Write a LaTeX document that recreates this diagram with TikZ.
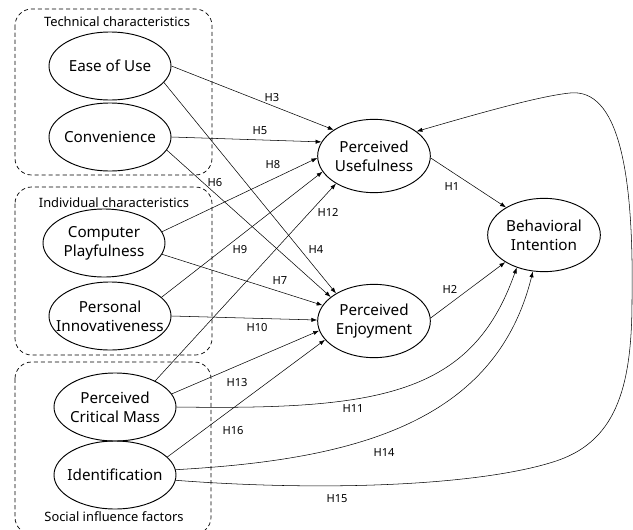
\documentclass[tikz,border=0pt]{standalone}
\usepackage{fontspec}
\setmainfont{Noto Sans}
\usetikzlibrary{arrows.meta, shapes.geometric}

\begin{document}
\begin{tikzpicture}[x=0.03cm, y=-0.03cm, >={Latex[length=5pt,width=3.6pt]},
    construct/.style={ellipse, draw, line width=0.8pt, inner sep=0pt,
        minimum width=3.66cm, minimum height=2.04cm},
    outcome/.style={construct, minimum width=3.38cm, minimum height=2.2cm},
    ctext/.style={font=\fontsize{13}{16}\selectfont, align=center},
    groupbox/.style={draw, line width=0.6pt, dash pattern=on 3.5pt off 2.5pt, rounded corners=0.5cm},
    grouptext/.style={font=\fontsize{11}{13}\selectfont},
    hyp/.style={font=\fontsize{9.5}{11}\selectfont, inner sep=1pt},
    link/.style={->, line width=0.45pt}]
    \useasboundingbox (0,0) rectangle (633,530);

    % groups
    \draw[groupbox] (15,9) rectangle (212,175);
    \draw[groupbox] (15,187) rectangle (212,355);
    \draw[groupbox] (15,362) rectangle (211,534);
    \node[grouptext] (gtech) at (117,22) {Technical characteristics};
    \node[grouptext] (gind) at (114,203) {Individual characteristics};
    \node[grouptext] (gsoc) at (114,517) {Social influence factors};

    % constructs
    \node[construct, label={[ctext]center:Ease of Use}] (eou) at (110,66) {};
    \node[construct, label={[ctext]center:Convenience}] (conv) at (110,137) {};
    \node[construct, label={[ctext]center:{Computer\\Playfulness}}] (cp) at (104,243) {};
    \node[construct, label={[ctext]center:{Personal\\Innovativeness}}] (pi) at (110,316) {};
    \node[construct, label={[ctext]center:{Perceived\\Critical Mass}}] (pcm) at (115,407) {};
    \node[construct, label={[ctext]center:Identification}] (iden) at (115,475) {};
    \node[outcome, label={[ctext]center:{Perceived\\Usefulness}}] (pu) at (374,156) {};
    \node[outcome, label={[ctext]center:{Perceived\\Enjoyment}}] (pe) at (374,321) {};
    \node[outcome, label={[ctext]center:{Behavioral\\Intention}}] (bi) at (544,235) {};

    % bends of the long H15 path
    \coordinate (lowR) at (553,462);
    \coordinate (farR) at (632,300);
    \coordinate (topR) at (570,93);

    % paths
    \draw[link] (eou.east) -- (pu.147);
    \draw[link] (eou.-17) -- (pe.144);
    \draw[link] (conv.east) -- (pu.165);
    \draw[link] (conv.-13) -- (pe.151);
    \draw[link] (cp.11) -- (pu.182);
    \draw[link] (cp.-11) -- (pe.163);
    \draw[link] (pi.20) -- (pu.197);
    \draw[link] (pi.east) -- (pe.179);
    \draw[link] (pcm.33) -- (pu.216);
    \draw[link] (pcm.13) -- (pe.190);
    \draw[link] (pcm.east) .. controls (380,410) and (472,395) .. (bi.230);
    \draw[link] (iden.19) -- (pe.201);
    \draw[link] (iden.5) .. controls (350,460) and (495,425) .. (bi.253);
    \draw[link] (iden.-5) .. controls (330,492) and (480,485) .. (lowR)
        .. controls (615,443) and (632,390) .. (farR)
        .. controls (634,170) and (618,88) .. (topR)
        .. controls (540,96) and (480,113) .. (pu.30);
    \draw[link] (pu.-2) -- (bi.144);
    \draw[link] (pe.3) -- (bi.215);

    % hypotheses
    \node[hyp] (h1) at (452,187) {H1};
    \node[hyp] (h2) at (450,289) {H2};
    \node[hyp] (h3) at (272,98) {H3};
    \node[hyp] (h4) at (316,250) {H4};
    \node[hyp] (h5) at (260,131) {H5};
    \node[hyp] (h6) at (215,183) {H6};
    \node[hyp] (h7) at (280,281) {H7};
    \node[hyp] (h8) at (273,165) {H8};
    \node[hyp] (h9) at (240,250) {H9};
    \node[hyp] (h10) at (257,328) {H10};
    \node[hyp] (h11) at (353,409) {H11};
    \node[hyp] (h12) at (328,212) {H12};
    \node[hyp] (h13) at (237,383) {H13};
    \node[hyp] (h14) at (384,453) {H14};
    \node[hyp] (h15) at (337,499) {H15};
    \node[hyp] (h16) at (233,431) {H16};
\end{tikzpicture}
\end{document}
